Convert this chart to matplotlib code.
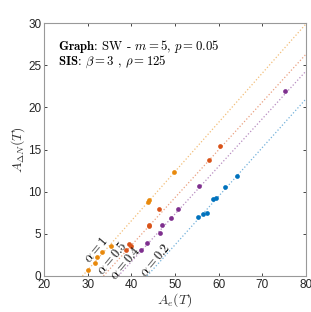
import matplotlib
matplotlib.use('Agg')
import matplotlib.pyplot as plt
import numpy as np

plt.rcParams['mathtext.fontset'] = 'cm'
plt.rcParams['font.family'] = ['Liberation Sans', 'DejaVu Sans']

# fitted lines: (x-intercept, y at x=80)
alphas = ['1', '0.5', '0.4', '0.2']
colors = ['#E8890C', '#D95319', '#7E2F8E', '#0072BD']
line_x0 = [28.8, 33.6, 37.0, 43.6]
line_y80 = [29.9, 26.3, 24.3, 21.0]

x_a1 = [30.0, 31.6, 32.2, 33.2, 35.4, 43.9, 44.1, 49.8]
y_a1 = [0.75, 1.5, 2.2, 2.8, 3.5, 8.75, 9.0, 12.3]
x_a05 = [38.8, 39.4, 40.0, 44.0, 44.1, 46.3, 57.7, 60.3]
y_a05 = [3.1, 3.75, 3.5, 5.9, 6.05, 7.9, 13.75, 15.4]
x_a04 = [42.3, 43.7, 46.5, 47.1, 49.1, 50.8, 55.5, 75.3]
y_a04 = [3.1, 3.9, 5.15, 6.1, 6.9, 7.9, 10.65, 21.9]
x_a02 = [55.2, 56.4, 57.3, 58.6, 59.3, 61.5, 64.2]
y_a02 = [7.05, 7.3, 7.45, 9.15, 9.2, 10.5, 11.85]

xs = [x_a1, x_a05, x_a04, x_a02]
ys = [y_a1, y_a05, y_a04, y_a02]
label_pos = [(31.9, 3.0), (35.7, 2.1), (38.6, 1.45), (45.5, 1.85)]

fig = plt.figure(figsize=(3.11, 3.12), dpi=100)
ax = fig.add_axes([44 / 311, 36 / 312, 262 / 311, 253 / 312])

for i in range(4):
    lx = np.array([line_x0[i], 80])
    ly = np.array([0, line_y80[i]])
    ax.plot(lx, ly, ls=':', lw=0.9, color=colors[i], alpha=0.55)
    ax.plot(xs[i], ys[i], 'o', ms=3.4, color=colors[i], mec='none')
    ax.text(label_pos[i][0], label_pos[i][1], r'$\alpha = %s$' % alphas[i],
            rotation=50, ha='center', va='center', fontsize=9)

ax.text(23.3, 27.2, r'$\mathbf{Graph}$: SW - $m = 5$, $p = 0.05$',
        fontsize=9.2, fontfamily='cmr10', va='center')
ax.text(23.3, 25.4, r'$\mathbf{SIS}$: $\beta = 3$ , $\rho = 125$',
        fontsize=9.2, fontfamily='cmr10', va='center')

ax.set_xlim(20, 80)
ax.set_ylim(0, 30)
ax.set_xticks([20, 30, 40, 50, 60, 70, 80])
ax.set_yticks([0, 5, 10, 15, 20, 25, 30])
ax.tick_params(direction='in', length=2.5, width=0.6, labelsize=8.5,
               top=True, right=True, colors='#262626', pad=2)
for s in ax.spines.values():
    s.set_color('#999999')
    s.set_linewidth(0.8)
ax.set_xlabel(r'$A_e(T)$', fontsize=10, labelpad=0, color='#333333')
ax.set_ylabel(r'$A_{\Delta N}(T)$', fontsize=10, labelpad=1, color='#333333')

fig.savefig('out.png', dpi=100)
